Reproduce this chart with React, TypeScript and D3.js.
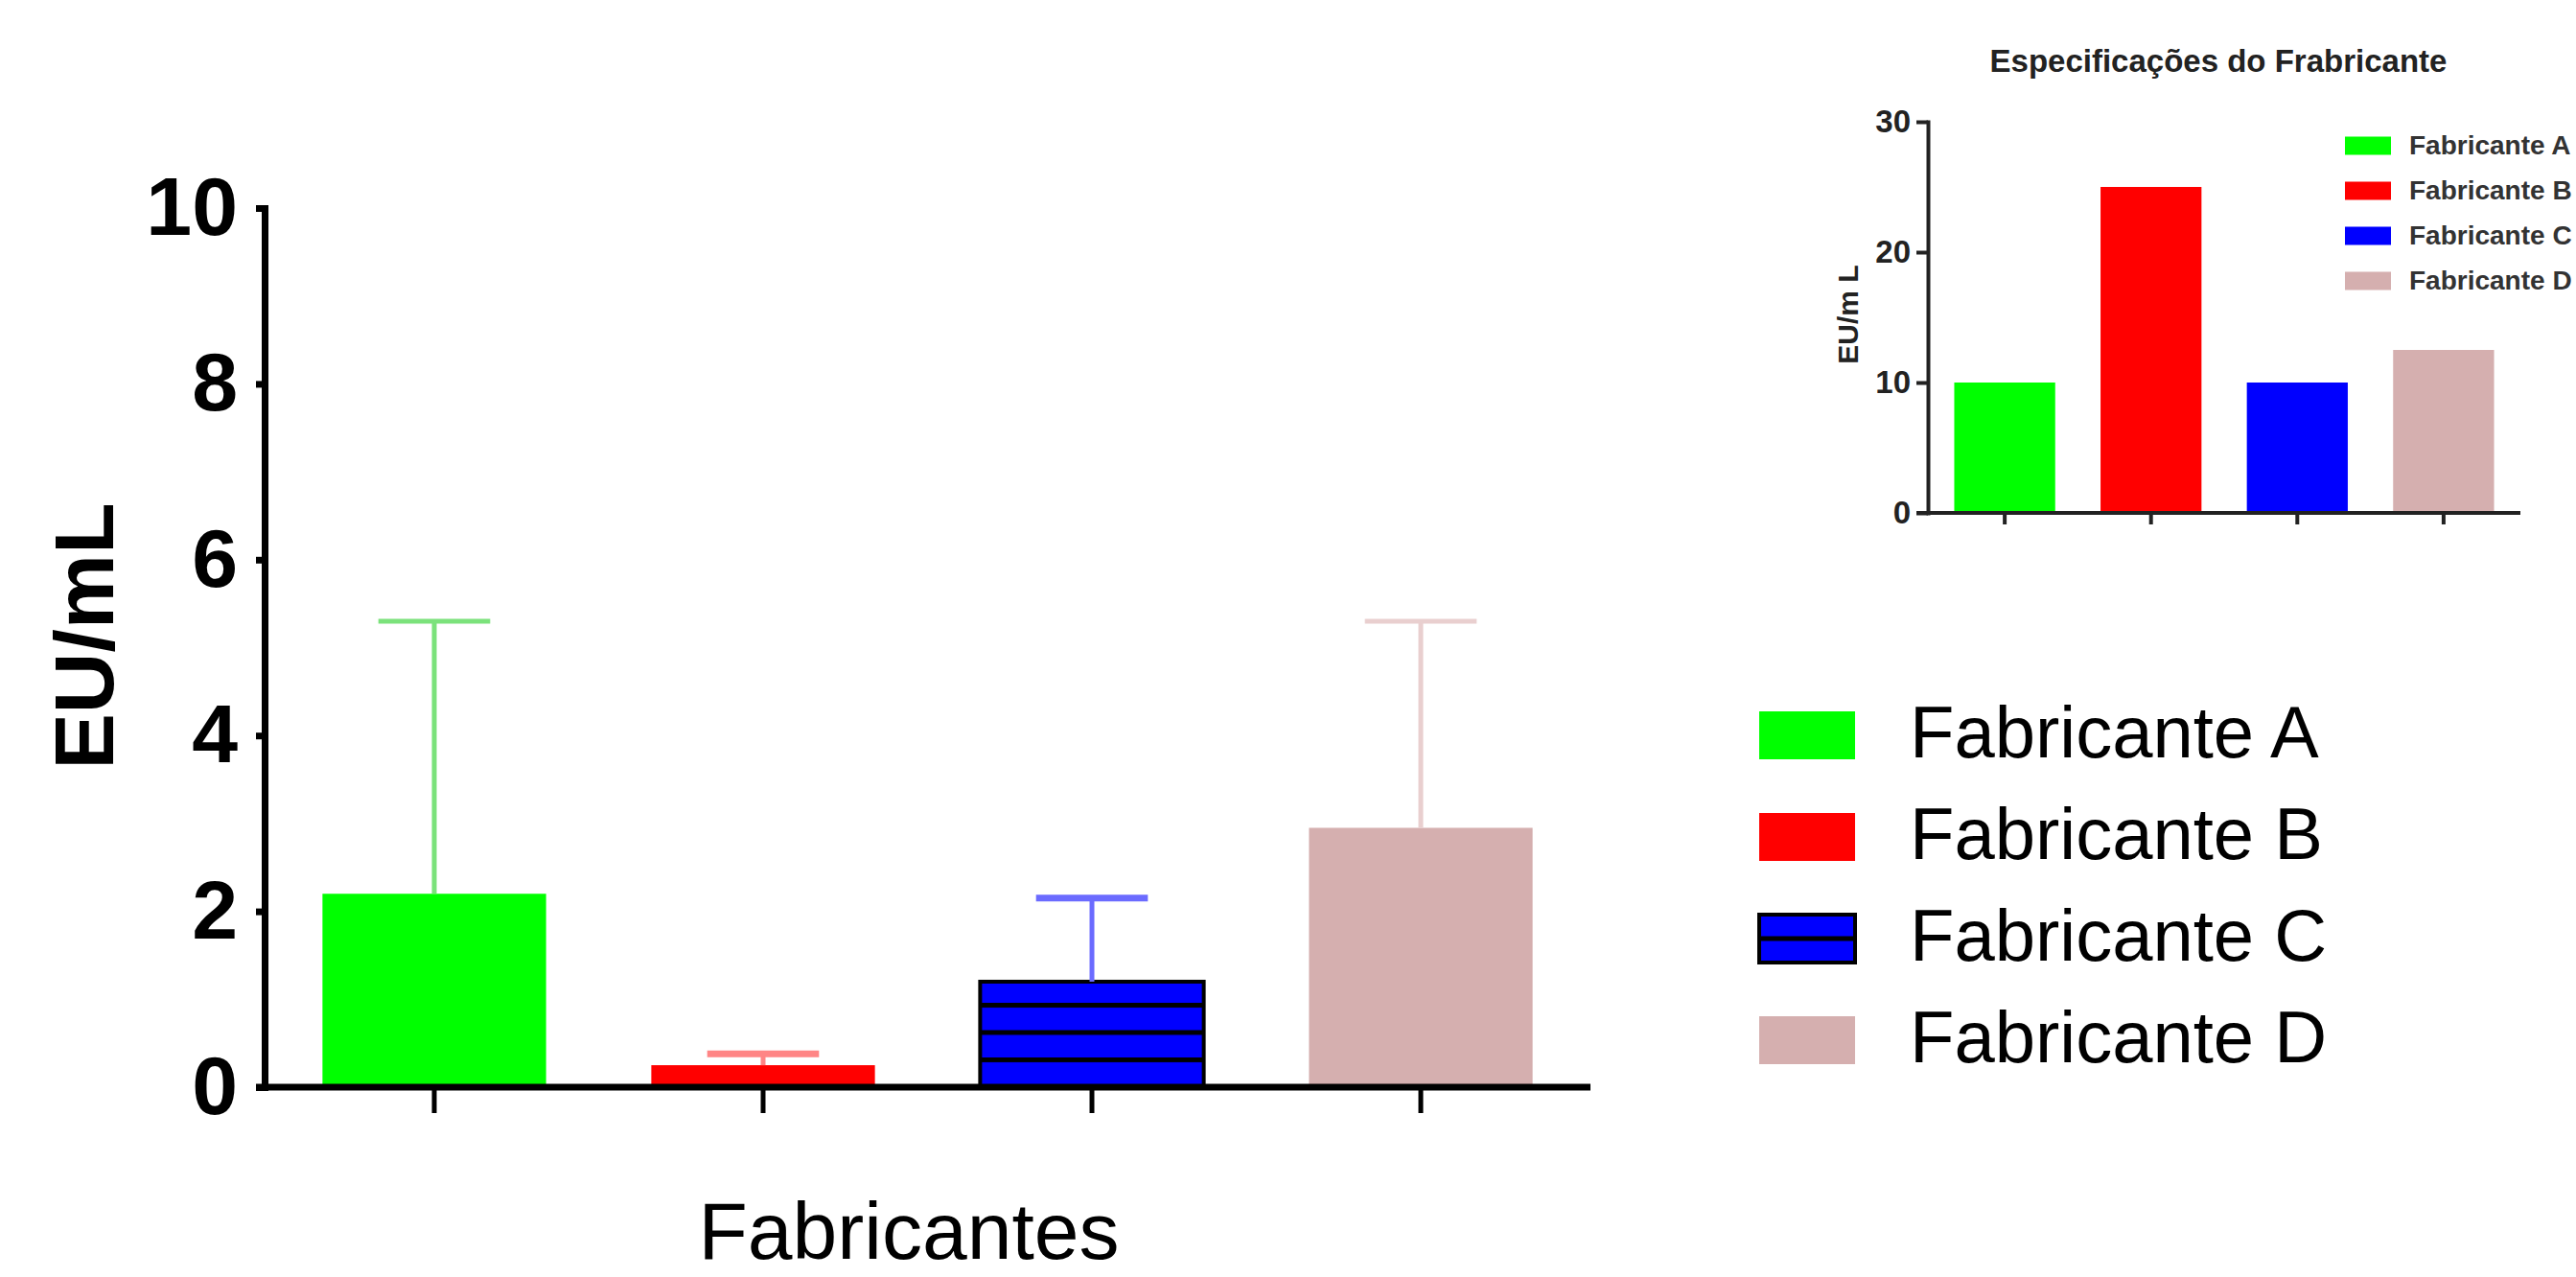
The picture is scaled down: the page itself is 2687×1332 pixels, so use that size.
import React, { useRef, useEffect } from "react";
import * as d3 from "d3";

const fabricantes = ["Fabricante A", "Fabricante B", "Fabricante C", "Fabricante D"];
const mediaEU = [2.2, 0.25, 1.2, 2.95];
const limiteSuperior = [5.3, 0.38, 2.15, 5.3];
const especificacao = [10, 25, 10, 12.5];
const ticksPrincipal = [0, 2, 4, 6, 8, 10];
const ticksInset = [0, 10, 20, 30];
const cores = ["#00ff00", "#ff0000", "#0000ff", "#d5afaf"];
const coresErro = ["#7be27b", "#ff8585", "#6b6bff", "#e9cfcf"];

const W = 2687;
const H = 1332;
const FONT = "'Liberation Sans', Arial, sans-serif";

const App = () => {
  const svgRef = useRef(null);

  useEffect(() => {
    const svg = d3.select(svgRef.current);
    svg.selectAll("*").remove();

    // ---- grafico principal ----
    const x = d3
      .scaleBand()
      .domain(fabricantes)
      .range([276, 1659])
      .paddingInner(0.32)
      .paddingOuter(0.176);
    const y = d3.scaleLinear().domain([0, 10]).range([1134, 217]);

    // listras do fabricante C
    const periodo = 28.5;
    const pat = svg
      .append("defs")
      .append("pattern")
      .attr("id", "listras")
      .attr("patternUnits", "userSpaceOnUse")
      .attr("width", 10)
      .attr("height", periodo)
      .attr("y", y(0) - 2.5);
    pat.append("rect").attr("width", 10).attr("height", periodo).attr("fill", cores[2]);
    pat.append("rect").attr("width", 10).attr("height", 5).attr("fill", "#000");

    svg
      .append("g")
      .selectAll("rect")
      .data(fabricantes)
      .join("rect")
      .attr("x", (d) => x(d))
      .attr("y", (d, i) => y(mediaEU[i]))
      .attr("width", x.bandwidth())
      .attr("height", (d, i) => y(0) - y(mediaEU[i]))
      .attr("fill", (d, i) => (i === 2 ? "url(#listras)" : cores[i]))
      .attr("stroke", (d, i) => (i === 2 ? "#000" : "none"))
      .attr("stroke-width", 4);

    const erros = svg.append("g").attr("stroke-width", 5).attr("fill", "none");
    fabricantes.forEach((f, i) => {
      const cx = x(f) + x.bandwidth() / 2;
      const capo = x.bandwidth() * 0.25;
      erros
        .append("line")
        .attr("x1", cx)
        .attr("x2", cx)
        .attr("y1", y(mediaEU[i]))
        .attr("y2", y(limiteSuperior[i]))
        .attr("stroke", coresErro[i]);
      erros
        .append("line")
        .attr("x1", cx - capo)
        .attr("x2", cx + capo)
        .attr("y1", y(limiteSuperior[i]))
        .attr("y2", y(limiteSuperior[i]))
        .attr("stroke", coresErro[i])
        .attr("stroke-width", i === 1 || i === 2 ? 7 : 5);
    });

    const yAxis = d3
      .axisLeft(y)
      .tickValues(ticksPrincipal)
      .tickSize(9)
      .tickSizeOuter(0)
      .tickPadding(19)
      .tickFormat(d3.format("d"));
    const gy = svg
      .append("g")
      .attr("transform", `translate(${x.range()[0]},0)`)
      .call(yAxis)
      .attr("font-size", 86)
      .attr("font-family", FONT)
      .attr("font-weight", "bold");
    gy.select(".domain").attr("stroke", "#000").attr("stroke-width", 7).attr("stroke-linecap", "square");
    gy.selectAll(".tick line").attr("stroke", "#000").attr("stroke-width", 7);
    gy.selectAll(".tick text").attr("fill", "#000");

    const xAxis = d3.axisBottom(x).tickSize(27).tickSizeOuter(0).tickFormat(() => "");
    const gx = svg.append("g").attr("transform", `translate(0,${y(0)})`).call(xAxis);
    gx.select(".domain")
      .attr("d", `M${x.range()[0] - 9},0H${x.range()[1]}`)
      .attr("stroke", "#000")
      .attr("stroke-width", 7);
    gx.selectAll(".tick line").attr("stroke", "#000").attr("stroke-width", 5);

    svg
      .append("text")
      .attr("transform", `translate(118,${(y.range()[0] + y.range()[1]) / 2 - 12}) rotate(-90)`)
      .attr("text-anchor", "middle")
      .attr("font-family", FONT)
      .attr("font-weight", "bold")
      .attr("font-size", 88)
      .text("EU/mL");

    svg
      .append("text")
      .attr("x", 948)
      .attr("y", 1313)
      .attr("text-anchor", "middle")
      .attr("font-family", FONT)
      .attr("font-size", 84)
      .text("Fabricantes");

    // legenda principal
    const leg = svg.append("g").attr("font-family", FONT).attr("font-size", 76);
    fabricantes.forEach((f, i) => {
      const cy = 767 + i * 106;
      leg
        .append("rect")
        .attr("x", 1835)
        .attr("y", cy - 25)
        .attr("width", 100)
        .attr("height", 50)
        .attr("fill", cores[i])
        .attr("stroke", i === 2 ? "#000" : "none")
        .attr("stroke-width", 4);
      if (i === 2) {
        leg
          .append("rect")
          .attr("x", 1835)
          .attr("y", cy - 2.5)
          .attr("width", 100)
          .attr("height", 5)
          .attr("fill", "#000");
      }
      leg.append("text").attr("x", 1992).attr("y", cy + 23).text(f);
    });

    // ---- grafico inserido ----
    const xi = d3
      .scaleBand()
      .domain(fabricantes)
      .range([2011, 2629])
      .paddingInner(0.31)
      .paddingOuter(0.18);
    const yi = d3.scaleLinear().domain([0, 30]).range([535, 127]);

    svg
      .append("g")
      .selectAll("rect")
      .data(fabricantes)
      .join("rect")
      .attr("x", (d) => xi(d))
      .attr("y", (d, i) => yi(especificacao[i]))
      .attr("width", xi.bandwidth())
      .attr("height", (d, i) => yi(0) - yi(especificacao[i]))
      .attr("fill", (d, i) => cores[i]);

    const yiAxis = d3
      .axisLeft(yi)
      .tickValues(ticksInset)
      .tickSize(12)
      .tickSizeOuter(0)
      .tickPadding(6)
      .tickFormat(d3.format("d"));
    const giy = svg
      .append("g")
      .attr("transform", `translate(${xi.range()[0]},0)`)
      .call(yiAxis)
      .attr("font-size", 33)
      .attr("font-family", FONT)
      .attr("font-weight", "bold");
    giy.select(".domain").attr("stroke", "#222").attr("stroke-width", 4).attr("stroke-linecap", "square");
    giy.selectAll(".tick line").attr("stroke", "#222").attr("stroke-width", 4);
    giy.selectAll(".tick text").attr("fill", "#222");

    const xiAxis = d3.axisBottom(xi).tickSize(12).tickSizeOuter(0).tickFormat(() => "");
    const gix = svg.append("g").attr("transform", `translate(0,${yi(0)})`).call(xiAxis);
    gix.select(".domain")
      .attr("d", `M${xi.range()[0] - 12},0H${xi.range()[1]}`)
      .attr("stroke", "#222")
      .attr("stroke-width", 4);
    gix.selectAll(".tick line").attr("stroke", "#222").attr("stroke-width", 4);

    svg
      .append("text")
      .attr("x", 2314)
      .attr("y", 75)
      .attr("text-anchor", "middle")
      .attr("font-family", FONT)
      .attr("font-weight", "bold")
      .attr("font-size", 33)
      .attr("fill", "#222")
      .text("Especificações do Frabricante");

    svg
      .append("text")
      .attr("transform", `translate(1938,328) rotate(-90)`)
      .attr("text-anchor", "middle")
      .attr("font-family", FONT)
      .attr("font-weight", "bold")
      .attr("font-size", 30)
      .attr("fill", "#222")
      .text("EU/m L");

    const legi = svg.append("g").attr("font-family", FONT).attr("font-size", 28).attr("font-weight", "bold").attr("fill", "#333");
    fabricantes.forEach((f, i) => {
      const cy = 152 + i * 47;
      legi
        .append("rect")
        .attr("x", 2446)
        .attr("y", cy - 9.5)
        .attr("width", 48)
        .attr("height", 19)
        .attr("fill", cores[i]);
      legi.append("text").attr("x", 2513).attr("y", cy + 9).text(f);
    });
  }, []);

  return (
    <svg
      ref={svgRef}
      width={W}
      height={H}
      style={{ position: "absolute", left: 0, top: 0, display: "block", background: "#fff" }}
    />
  );
};

export default App;
